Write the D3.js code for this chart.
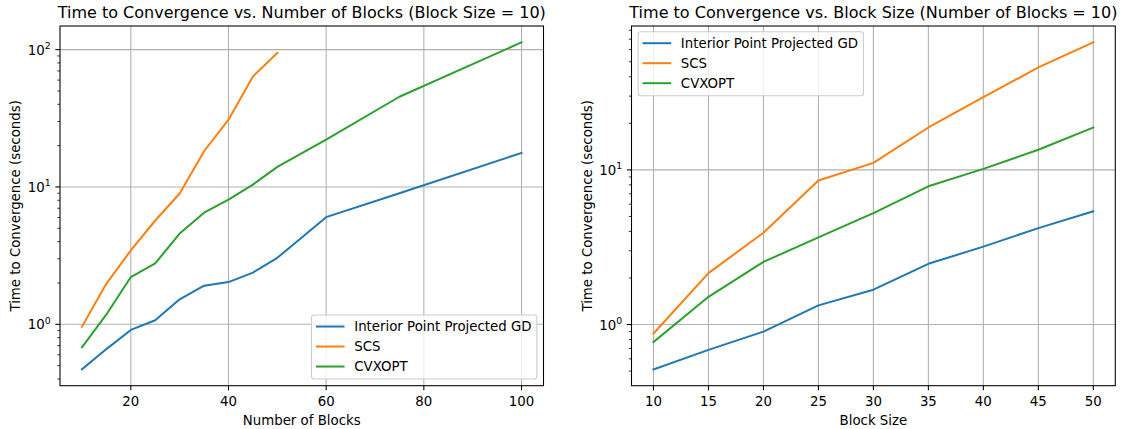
<!DOCTYPE html>
<html>
<head>
<meta charset="utf-8">
<script src="https://cdn.jsdelivr.net/npm/d3@7"></script>
<style>
  html, body { margin: 0; padding: 0; background: #fff; }
  svg { display: block; font-family: "DejaVu Sans", sans-serif; }
</style>
</head>
<body>
<svg id="chart" width="1125" height="429"></svg>
<script>
// ---- Data ----
const seriesNames = ["Interior Point Projected GD", "SCS", "CVXOPT"];
const seriesColors = ["#1f77b4", "#ff7f0e", "#2ca02c"];

const blocksX = [10, 15, 20, 25, 30, 35, 40, 45, 50, 60, 75, 100];
const ipgdBlocks = [0.47, 0.66, 0.91, 1.07, 1.52, 1.91, 2.03, 2.38, 3.05, 6.03, 9.0, 17.7];
const scsBlocksX = [10, 15, 20, 25, 30, 35, 40, 45, 50];
const scsBlocks = [0.96, 1.98, 3.45, 5.7, 8.96, 18.2, 30.9, 63.8, 94.6];
const cvxBlocks = [0.68, 1.18, 2.21, 2.78, 4.58, 6.5, 8.1, 10.4, 14.0, 22.1, 45.4, 113];

const sizeX = [10, 15, 20, 25, 30, 35, 40, 45, 50];
const ipgdSize = [0.513, 0.686, 0.90, 1.33, 1.68, 2.47, 3.19, 4.2, 5.4];
const scsSize = [0.875, 2.15, 3.92, 8.53, 11.1, 18.8, 29.5, 46, 66.8];
const cvxSize = [0.77, 1.51, 2.54, 3.66, 5.25, 7.83, 10.15, 13.5, 18.8];

const leftXTicks = [20, 40, 60, 80, 100];
const rightXTicks = [10, 15, 20, 25, 30, 35, 40, 45, 50];
const yMajorTicks = [1, 10, 100];

const charts = [
  {
    title: "Time to Convergence vs. Number of Blocks (Block Size = 10)",
    xLabel: "Number of Blocks",
    yLabel: "Time to Convergence (seconds)",
    xTicks: leftXTicks,
    series: [
      { x: blocksX, y: ipgdBlocks },
      { x: scsBlocksX, y: scsBlocks },
      { x: blocksX, y: cvxBlocks }
    ],
    box: { x0: 60, x1: 543.5, y0: 26, y1: 385.7 },
    legend: "lower right"
  },
  {
    title: "Time to Convergence vs. Block Size (Number of Blocks = 10)",
    xLabel: "Block Size",
    yLabel: "Time to Convergence (seconds)",
    xTicks: rightXTicks,
    series: [
      { x: sizeX, y: ipgdSize },
      { x: sizeX, y: scsSize },
      { x: sizeX, y: cvxSize }
    ],
    box: { x0: 631.5, x1: 1115.3, y0: 26, y1: 385.7 },
    legend: "upper left"
  }
];

const svg = d3.select("#chart");
const FS = 13.33;       // 10pt
const TITLE_FS = 16;    // 12pt
const TICK_MAJOR = 4.67, TICK_MINOR = 2.67, TICK_PAD = 4.67;

charts.forEach(ch => {
  const b = ch.box;
  const allX = ch.series.flatMap(s => s.x);
  const allY = ch.series.flatMap(s => s.y);
  const xmin = d3.min(allX), xmax = d3.max(allX);
  const xm = (xmax - xmin) * 0.05;
  const lmin = Math.log10(d3.min(allY)), lmax = Math.log10(d3.max(allY));
  const lm = (lmax - lmin) * 0.05;

  const x = d3.scaleLinear().domain([xmin - xm, xmax + xm]).range([b.x0, b.x1]);
  const y = d3.scaleLog().domain([Math.pow(10, lmin - lm), Math.pow(10, lmax + lm)]).range([b.y1, b.y0]);
  const [ylo, yhi] = y.domain();

  const g = svg.append("g");

  // grid
  const grid = g.append("g").attr("stroke", "#b0b0b0").attr("stroke-width", 1.07);
  ch.xTicks.forEach(t => {
    grid.append("line").attr("x1", x(t)).attr("x2", x(t)).attr("y1", b.y0).attr("y2", b.y1);
  });
  yMajorTicks.filter(t => t >= ylo && t <= yhi).forEach(t => {
    grid.append("line").attr("x1", b.x0).attr("x2", b.x1).attr("y1", y(t)).attr("y2", y(t));
  });

  // lines
  const clipId = "clip" + Math.round(b.x0);
  svg.append("defs").append("clipPath").attr("id", clipId)
    .append("rect").attr("x", b.x0).attr("y", b.y0).attr("width", b.x1 - b.x0).attr("height", b.y1 - b.y0);
  const line = d3.line().x(d => x(d[0])).y(d => y(d[1]));
  ch.series.forEach((s, i) => {
    g.append("path")
      .attr("d", line(s.x.map((v, k) => [v, s.y[k]])))
      .attr("fill", "none")
      .attr("stroke", seriesColors[i])
      .attr("stroke-width", 2)
      .attr("stroke-linejoin", "round")
      .attr("stroke-linecap", "square")
      .attr("clip-path", `url(#${clipId})`);
  });

  // spines
  g.append("rect").attr("x", b.x0).attr("y", b.y0).attr("width", b.x1 - b.x0).attr("height", b.y1 - b.y0)
    .attr("fill", "none").attr("stroke", "#000").attr("stroke-width", 1.07);

  // x ticks
  const xt = g.append("g");
  ch.xTicks.forEach(t => {
    xt.append("line").attr("x1", x(t)).attr("x2", x(t)).attr("y1", b.y1).attr("y2", b.y1 + TICK_MAJOR)
      .attr("stroke", "#000").attr("stroke-width", 1.07);
    xt.append("text").attr("x", x(t)).attr("y", b.y1 + 20.3)
      .attr("text-anchor", "middle").attr("font-size", FS).attr("fill", "#000").text(t);
  });

  // y ticks (major + minor)
  const yt = g.append("g");
  for (let e = Math.floor(Math.log10(ylo)); e <= Math.ceil(Math.log10(yhi)); e++) {
    for (let m = 1; m <= 9; m++) {
      const v = m * Math.pow(10, e);
      if (v < ylo || v > yhi) continue;
      const major = m === 1;
      yt.append("line").attr("x1", b.x0 - (major ? TICK_MAJOR : TICK_MINOR)).attr("x2", b.x0)
        .attr("y1", y(v)).attr("y2", y(v))
        .attr("stroke", "#000").attr("stroke-width", major ? 1.07 : 0.8);
      if (major) {
        const txt = yt.append("text").attr("x", b.x0 - TICK_MAJOR - TICK_PAD).attr("y", y(v) + 5)
          .attr("text-anchor", "end").attr("font-size", FS).attr("fill", "#000");
        txt.append("tspan").text("10");
        txt.append("tspan").attr("font-size", FS * 0.7).attr("dy", -5.6).text(String(e));
      }
    }
  }

  // title
  g.append("text").attr("x", (b.x0 + b.x1) / 2).attr("y", 18)
    .attr("text-anchor", "middle").attr("font-size", TITLE_FS).attr("fill", "#000").text(ch.title);
  // x label
  g.append("text").attr("x", (b.x0 + b.x1) / 2).attr("y", 424.5)
    .attr("text-anchor", "middle").attr("font-size", FS).attr("fill", "#000").text(ch.xLabel);
  // y label
  const ylx = b.x0 - 40;
  g.append("text").attr("transform", `translate(${ylx},${(b.y0 + b.y1) / 2}) rotate(-90)`)
    .attr("text-anchor", "middle").attr("font-size", FS).attr("fill", "#000").text(ch.yLabel);

  // legend
  const lg = g.append("g");
  const texts = seriesNames.map(n => lg.append("text").attr("font-size", FS).attr("fill", "#000").text(n));
  const tw = d3.max(texts.map(t => t.node().getComputedTextLength()));
  const handleLen = 26.67, pad = 5.33, gapText = 10.67, rowH = 20, axPad = 6.67;
  const boxW = pad + handleLen + gapText + tw + pad;
  const boxH = 64;
  let lx, ly;
  if (ch.legend === "lower right") { lx = b.x1 - axPad - boxW; ly = b.y1 - axPad - boxH; }
  else { lx = b.x0 + axPad; ly = b.y0 + 5.7; }
  lg.insert("rect", ":first-child").attr("x", lx).attr("y", ly).attr("width", boxW).attr("height", boxH)
    .attr("rx", 2.7).attr("ry", 2.7)
    .attr("fill", "#fff").attr("fill-opacity", 0.8).attr("stroke", "#cccccc").attr("stroke-width", 1.07);
  seriesNames.forEach((n, i) => {
    const cy = ly + 11.5 + i * rowH;
    lg.append("line").attr("x1", lx + pad).attr("x2", lx + pad + handleLen).attr("y1", cy).attr("y2", cy)
      .attr("stroke", seriesColors[i]).attr("stroke-width", 2).attr("stroke-linecap", "square");
    texts[i].attr("x", lx + pad + handleLen + gapText).attr("y", cy + 4.8);
  });
});
</script>
</body>
</html>
